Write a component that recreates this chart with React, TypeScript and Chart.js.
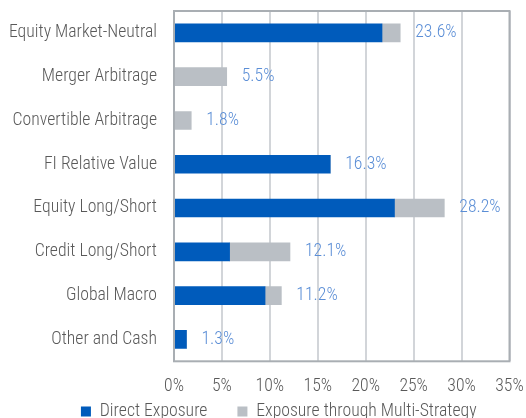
import React, { useEffect, useRef } from "react";
import { Chart, registerables } from "chart.js";

Chart.register(...registerables);

const categories = [
  "Equity Market-Neutral",
  "Merger Arbitrage",
  "Convertible Arbitrage",
  "FI Relative Value",
  "Equity Long/Short",
  "Credit Long/Short",
  "Global Macro",
  "Other and Cash",
];
const directExposure = [21.7, 0, 0, 16.3, 23.0, 5.8, 9.5, 1.3];
const multiStrategyExposure = [1.9, 5.5, 1.8, 0, 5.2, 6.3, 1.7, 0];
const xMin = 0;
const xMax = 35;
const xStep = 5;
const seriesNames = ["Direct Exposure", "Exposure through Multi-Strategy"];

const W = 526;
const FONT = "'Roboto Condensed', 'Liberation Sans', Arial, sans-serif";
const FS = 17.7;
const FW = 300;
const TEXT = "#595959";
const LEGEND_PAD = 30;
const X_AXIS_H = 50;
const H = Math.round(361 + X_AXIS_H + FS + LEGEND_PAD + 10);

export default function App() {
  const ref = useRef<HTMLCanvasElement | null>(null);
  useEffect(() => {
    if (!ref.current) return;
    const extras = {
      id: "extras",
      afterLayout(chart: any) {
        const lg = chart.legend;
        if (lg) {
          const dy = 411.5 - LEGEND_PAD - FS / 2 - lg.top;
          lg.top += dy;
          lg.bottom += dy;
          const dx = 24;
          lg.left += dx;
          lg.right += dx;
        }
      },
      afterDatasetsDraw(chart: any) {
        const ctx = chart.ctx;
        const xs = chart.scales.x;
        const ys = chart.scales.y;
        ctx.save();
        ctx.font = `${FW} ${FS}px ${FONT}`;
        ctx.fillStyle = "#5B8ED6";
        ctx.textAlign = "left";
        ctx.textBaseline = "middle";
        categories.forEach((_, i) => {
          const total = directExposure[i] + multiStrategyExposure[i];
          const x = xs.getPixelForValue(total) + 15;
          const y = ys.getPixelForValue(i);
          ctx.fillText(total.toFixed(1) + "%", x, y);
        });
        ctx.restore();
      },
      afterDraw(chart: any) {
        const a = chart.chartArea;
        const ctx = chart.ctx;
        ctx.save();
        ctx.strokeStyle = "#A9AEB3";
        ctx.lineWidth = 2;
        ctx.strokeRect(a.left, a.top, a.right - a.left, a.bottom - a.top);
        ctx.restore();
      },
    };
    const chart = new Chart(ref.current, {
      type: "bar",
      data: {
        labels: categories,
        datasets: [
          {
            label: seriesNames[0],
            data: directExposure,
            backgroundColor: "#005BBB",
            barThickness: 18,
          },
          {
            label: seriesNames[1],
            data: multiStrategyExposure,
            backgroundColor: "#BABFC5",
            barThickness: 18,
          },
        ],
      },
      options: {
        indexAxis: "y",
        responsive: false,
        animation: false,
        layout: { padding: { left: 0, right: 16.5, top: 11, bottom: 0 } },
        scales: {
          x: {
            stacked: true,
            min: xMin,
            max: xMax,
            afterFit(scale: any) {
              scale.height = X_AXIS_H;
              scale.paddingLeft = 0;
              scale.paddingRight = 0;
            },
            ticks: {
              stepSize: xStep,
              padding: 15,
              color: TEXT,
              font: { family: FONT, size: FS, weight: FW },
              callback: (v: any) => v + "%",
              maxRotation: 0,
              autoSkip: false,
            },
            grid: { color: "#D2D5D9", lineWidth: 2, drawTicks: false },
            border: { display: false },
          },
          y: {
            stacked: true,
            afterFit(scale: any) {
              scale.width = 174;
              scale.paddingTop = 0;
              scale.paddingBottom = 0;
            },
            ticks: {
              padding: 17,
              color: TEXT,
              font: { family: FONT, size: FS, weight: FW },
            },
            grid: { display: false, drawTicks: false },
            border: { display: false },
          },
        },
        plugins: {
          legend: {
            position: "bottom",
            labels: {
              boxWidth: 10,
              boxHeight: 10,
              padding: LEGEND_PAD,
              color: TEXT,
              font: { family: FONT, size: FS, weight: FW, lineHeight: 1 },
            },
          },
          tooltip: { enabled: false },
        },
      },
      plugins: [extras],
    });
    return () => chart.destroy();
  }, []);
  return (
    <div
      style={{
        position: "fixed",
        left: 0,
        top: 0,
        width: W,
        height: 418,
        overflow: "hidden",
        background: "#fff",
      }}
    >
      <canvas ref={ref} width={W} height={H} style={{ width: W, height: H, display: "block" }} />
    </div>
  );
}
